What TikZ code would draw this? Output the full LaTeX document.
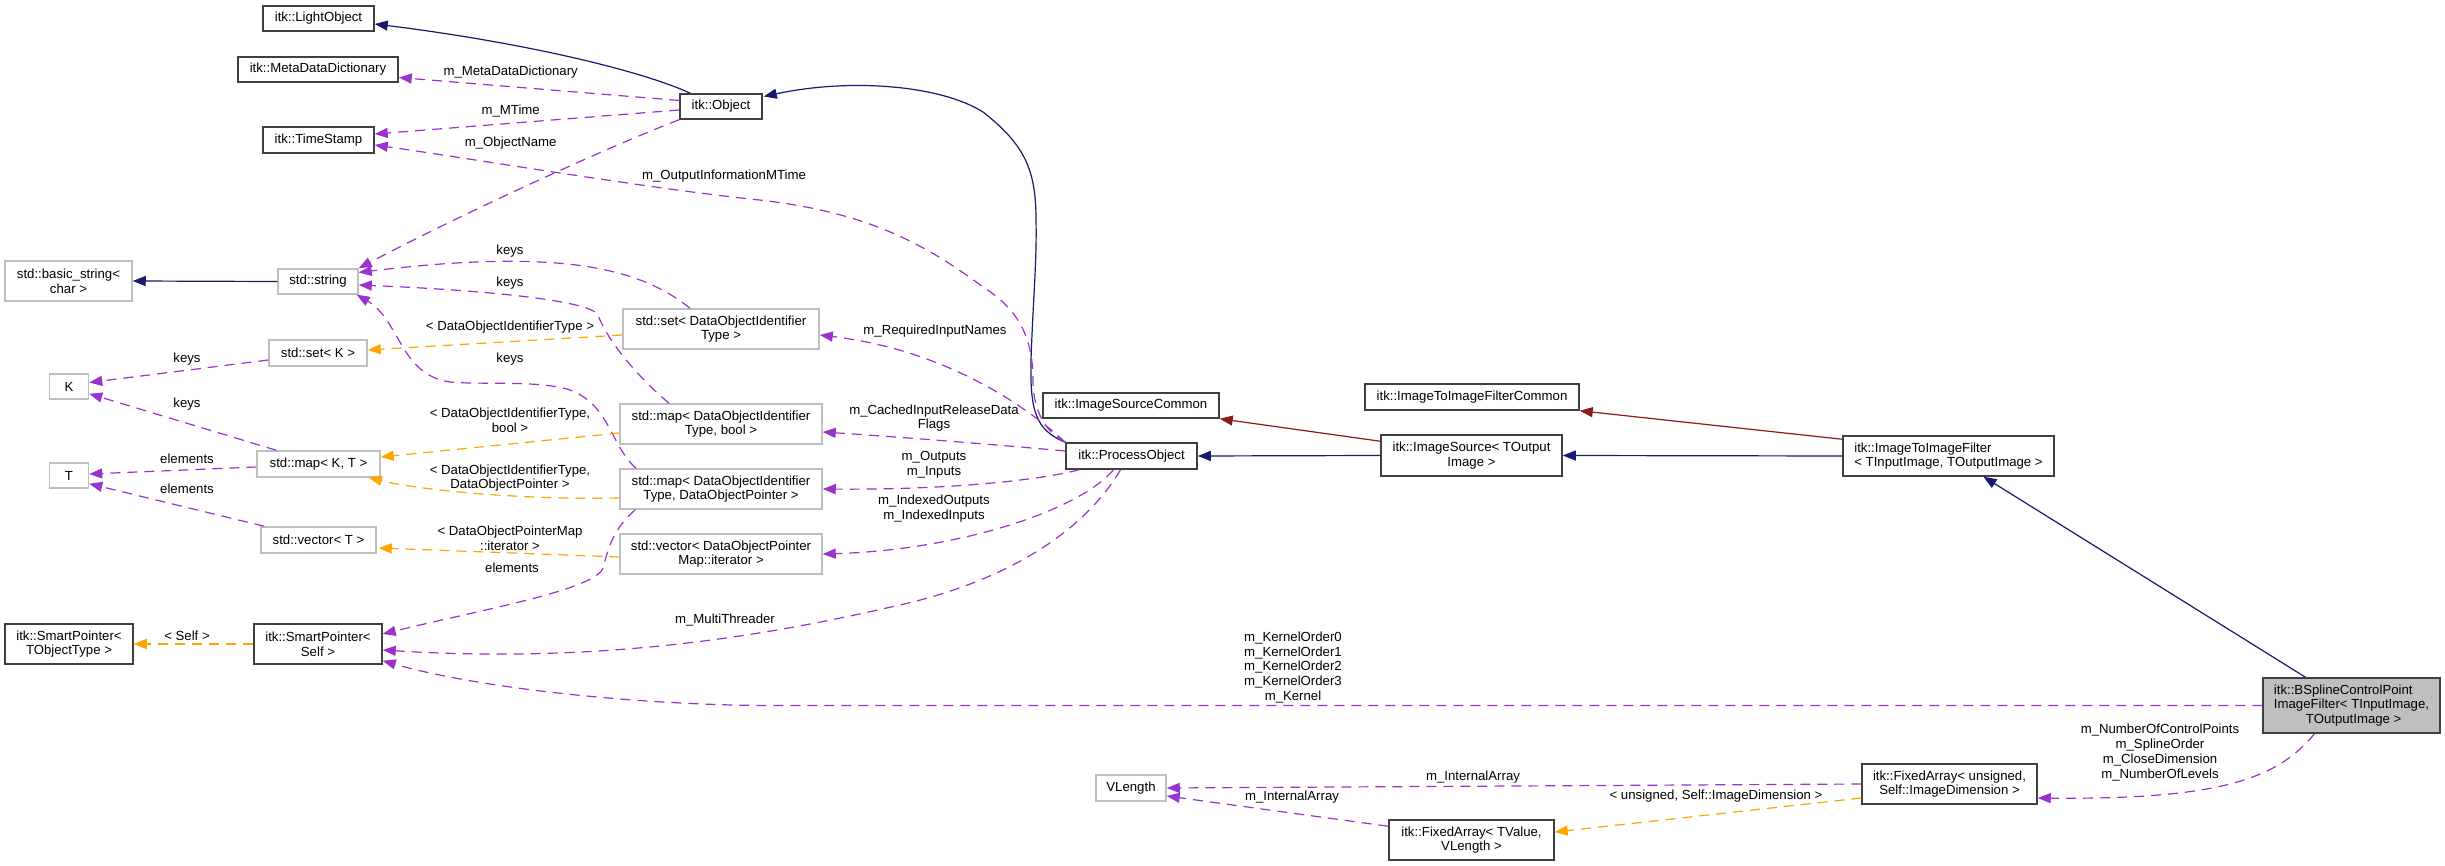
\documentclass[tikz,border=0pt]{standalone}
\usepackage{fontspec}
\setmainfont{Liberation Sans}
\usetikzlibrary{arrows.meta,calc}
\definecolor{navy}{HTML}{191970}
\definecolor{dred}{HTML}{8B1A1A}
\definecolor{purp}{HTML}{9A32CD}
\definecolor{orng}{HTML}{FFA500}
\definecolor{bdark}{HTML}{404040}
\definecolor{blight}{HTML}{BFBFBF}
\begin{document}
\begin{tikzpicture}[x=1pt,y=-1pt,
  font=\fontsize{13.2}{14.7}\selectfont,
  cls/.style={draw=bdark,line width=1.5pt,fill=white,inner sep=0pt,align=center},
  ext/.style={draw=blight,line width=1.5pt,fill=white,inner sep=0pt,align=center},
  tip/.style={-{Triangle[length=13pt,width=10pt]}},
  inh/.style={draw=navy,line width=1.2pt,tip},
  prot/.style={draw=dred,line width=1.2pt,tip},
  use/.style={draw=purp,line width=1.2pt,dash pattern=on 10pt off 7pt,tip},
  tmpl/.style={draw=orng,line width=1.2pt,dash pattern=on 10pt off 7pt,tip},
  lbl/.style={align=center,inner sep=0pt}
]
\path[fill=white] (0,0) rectangle (2445,866);

% nodes
\node[cls,minimum width=111pt,minimum height=25pt] (lo) at (318.5,18.5) {itk::LightObject};
\node[cls,minimum width=160pt,minimum height=25pt] (mdd) at (318,69.5) {itk::MetaDataDictionary};
\node[cls,minimum width=111pt,minimum height=26pt] (ts) at (318.5,140) {itk::TimeStamp};
\node[ext,minimum width=127pt,minimum height=40pt] (bstr) at (68.5,281) {std::basic\_string<\\char >};
\node[ext,minimum width=80pt,minimum height=25pt] (str) at (318,281.5) {std::string};
\node[ext,minimum width=98pt,minimum height=26pt] (setK) at (318,353) {std::set< K >};
\node[ext,minimum width=39pt,minimum height=25pt] (K) at (69,386.5) {K};
\node[ext,minimum width=123pt,minimum height=26pt] (mapKT) at (318.5,464) {std::map< K, T >};
\node[ext,minimum width=39pt,minimum height=25pt] (T) at (69,475.5) {T};
\node[ext,minimum width=115pt,minimum height=26pt] (vecT) at (318.5,540) {std::vector< T >};
\node[cls,minimum width=128pt,minimum height=40pt] (spT) at (69,644) {itk::SmartPointer<\\TObjectType >};
\node[cls,minimum width=128pt,minimum height=40pt] (spS) at (318,644) {itk::SmartPointer<\\Self >};
\node[cls,minimum width=82pt,minimum height=25pt] (obj) at (721,106.5) {itk::Object};
\node[ext,minimum width=196pt,minimum height=40pt] (setD) at (721,329) {std::set< DataObjectIdentifier\\Type >};
\node[ext,minimum width=202pt,minimum height=40pt] (mapB) at (721,424) {std::map< DataObjectIdentifier\\Type, bool >};
\node[ext,minimum width=202pt,minimum height=40pt] (mapD) at (721,489) {std::map< DataObjectIdentifier\\Type, DataObjectPointer >};
\node[ext,minimum width=202pt,minimum height=40pt] (vecD) at (721,554) {std::vector< DataObjectPointer\\Map::iterator >};
\node[cls,minimum width=176pt,minimum height=25pt] (isc) at (1131,405.5) {itk::ImageSourceCommon};
\node[cls,minimum width=131pt,minimum height=26pt] (po) at (1131.5,456) {itk::ProcessObject};
\node[ext,minimum width=70pt,minimum height=26pt] (vl) at (1131,788) {VLength};
\node[cls,minimum width=214pt,minimum height=26pt] (itifc) at (1472,397) {itk::ImageToImageFilterCommon};
\node[cls,minimum width=181pt,minimum height=41pt] (is) at (1471.5,455.5) {itk::ImageSource< TOutput\\Image >};
\node[cls,minimum width=165pt,minimum height=40pt] (faT) at (1471.5,840) {itk::FixedArray< TValue,\\VLength >};
\node[cls,align=left,minimum width=211pt,minimum height=40pt] (itif) at (1948.5,456) {itk::ImageToImageFilter\\< TInputImage, TOutputImage >};
\node[cls,minimum width=175pt,minimum height=40pt] (faU) at (1949.5,784) {itk::FixedArray< unsigned,\\Self::ImageDimension >};
\node[cls,fill=blight,align=left,minimum width=177pt,minimum height=55pt] (bs) at (2351.5,705.5) {itk::BSplineControlPoint\\ImageFilter< TInputImage,\\\hspace*{32pt}TOutputImage >};

% inheritance
\draw[inh] ($(obj.north west)+(11,0)$) .. controls (640,70) and (520,42) .. ($(lo.east)+(0,5.5)$);
\draw[inh] (po.north west) .. controls (1035,430) and (1030,410) .. (1031,360)
  .. controls (1033,300) and (1037,260) .. (1036,220)
  .. controls (1036,170) and (1025,145) .. (983,112)
  .. controls (940,85) and (850,78) .. ($(obj.east)+(1,-10)$);
\draw[inh] (is.west) -- (po.east);
\draw[inh] (itif.west) -- (is.east);
\draw[inh] ($(bs.north)+(-46,0)$) -- ($(itif.south)+(35,0)$);
\draw[inh] (str.west) -- (bstr.east);
\draw[prot] ($(is.north west)+(0,7)$) -- (isc.south east);
\draw[prot] ($(itif.north west)+(0,4)$) -- (itifc.south east);

% usage
\draw[use] ($(obj.west)+(0,-6)$) -- ($(mdd.east)+(0,8)$);
\node[lbl] (l1) at (510.7,72) {m\_MetaDataDictionary};
\draw[use] ($(obj.west)+(0,3.5)$) -- ($(ts.east)+(0,-6)$);
\node[lbl] (l2) at (510.7,110.7) {m\_MTime};
\draw[use] (po.north west) .. controls (1045,432) and (1033,410) .. (1033,380)
  .. controls (1033,340) and (1020,310) .. (983,287)
  .. controls (920,240) and (860,210) .. (750,199)
  .. controls (640,187) and (480,160) .. ($(ts.east)+(0,5)$);
\node[lbl] (l3) at (724,176) {m\_OutputInformationMTime};
\draw[use] (obj.south west) .. controls (600,150) and (450,220) .. (str.north east);
\node[lbl] (l4) at (510.7,143.3) {m\_ObjectName};
\draw[use] ($(setD.north)+(-31,0)$) .. controls (640,268) and (560,248) .. ($(str.east)+(0,-9)$);
\node[lbl] (l5) at (510,251) {keys};
\draw[use] ($(mapB.north)+(-52,0)$) .. controls (630,370) and (605,335) .. (598,315)
  .. controls (590,300) and (480,290) .. ($(str.east)+(0,3.5)$);
\node[lbl] (l6) at (510,283) {keys};
\draw[use] ($(mapD.north)+(-85,0)$) .. controls (610,445) and (610,405) .. (570,390)
  .. controls (540,380) and (480,385) .. (450,382)
  .. controls (400,375) and (400,320) .. ($(str.south east)+(-2,0)$);
\node[lbl] (l7) at (510,359) {keys};
\draw[use] ($(setK.west)+(0,7)$) -- ($(K.east)+(0,-4)$);
\node[lbl] (l8) at (187,359) {keys};
\draw[use] ($(mapKT.north west)+(20,0)$) -- ($(K.south east)+(0,-6)$);
\node[lbl] (l9) at (187,404) {keys};
\draw[use] ($(mapKT.west)+(0,3)$) -- ($(T.east)+(0,-1.5)$);
\node[lbl] (l10) at (187,459) {elements};
\draw[use] ($(vecT.north west)+(4,0)$) -- ($(T.south east)+(0,-5)$);
\node[lbl] (l11) at (187,489) {elements};
\draw[use] ($(mapD.south west)+(16,0)$) .. controls (612,530) and (608,550) .. (603,568)
  .. controls (595,590) and (480,610) .. ($(spS.east)+(0,-10)$);
\node[lbl] (l12) at (512,568) {elements};
\draw[use] (po.north west) .. controls (1025,405) and (945,350) .. ($(setD.east)+(0,6)$);
\node[lbl] (l13) at (935,331) {m\_RequiredInputNames};
\draw[use] ($(po.west)+(0,-5)$) .. controls (1000,445) and (900,437) .. ($(mapB.east)+(0,8)$);
\node[lbl] (l14) at (934,418) {m\_CachedInputReleaseData\\Flags};
\draw[use] ($(po.south west)+(14,0)$) .. controls (1040,480) and (950,490) .. (mapD.east);
\node[lbl] (l15) at (934,464.5) {m\_Outputs\\m\_Inputs};
\draw[use] ($(po.south)+(-18,0)$) .. controls (1080,510) and (960,550) .. (vecD.east);
\node[lbl] (l16) at (934,508.5) {m\_IndexedOutputs\\m\_IndexedInputs};
\draw[use] ($(po.south)+(-11,0)$) .. controls (1085,530) and (1010,580) .. (900,605)
  .. controls (790,630) and (620,665) .. ($(spS.east)+(0,6)$);
\node[lbl] (l17) at (725,620) {m\_MultiThreader};
\draw[use] (bs.west) -- (760,705.5) .. controls (620,704) and (470,686) .. ($(spS.south east)+(0,-4)$);
\node[lbl] (l18) at (1293,667.5) {m\_KernelOrder0\\m\_KernelOrder1\\m\_KernelOrder2\\m\_KernelOrder3\\m\_Kernel};
\draw[use] ($(bs.south)+(-37,0)$) .. controls (2280,775) and (2230,800) .. ($(faU.east)+(0,14)$);
\node[lbl] (l19) at (2160,752.5) {m\_NumberOfControlPoints\\m\_SplineOrder\\m\_CloseDimension\\m\_NumberOfLevels};
\draw[use] (faU.west) -- (vl.east);
\node[lbl] (l20) at (1473,777) {m\_InternalArray};
\draw[use] ($(faT.north west)+(0,7)$) -- ($(vl.east)+(0,8)$);
\node[lbl] (l21) at (1292,797) {m\_InternalArray};

% template instances
\draw[tmpl] ($(setD.west)+(0,6)$) -- ($(setK.east)+(0,-3)$);
\node[lbl] (l22) at (510,327) {< DataObjectIdentifierType >};
\draw[tmpl] ($(mapB.west)+(0,9)$) -- ($(mapKT.east)+(0,-7)$);
\node[lbl] (l23) at (510,420.5) {< DataObjectIdentifierType,\\bool >};
\draw[tmpl] ($(mapD.west)+(0,9)$) .. controls (520,500) and (420,490) .. ($(mapKT.south east)+(-12,0)$);
\node[lbl] (l24) at (510,478) {< DataObjectIdentifierType,\\DataObjectPointer >};
\draw[tmpl] ($(vecD.west)+(0,3)$) -- ($(vecT.east)+(2,8)$);
\node[lbl] (l25) at (510,538) {< DataObjectPointerMap\\::iterator >};
\draw[tmpl] (spS.west) -- (spT.east);
\node[lbl] (l26) at (187,636) {< Self >};
\draw[tmpl] ($(faU.west)+(0,14)$) -- ($(faT.east)+(0,-8)$);
\node[lbl] (l27) at (1716,796) {< unsigned, Self::ImageDimension >};
\end{tikzpicture}
\end{document}
